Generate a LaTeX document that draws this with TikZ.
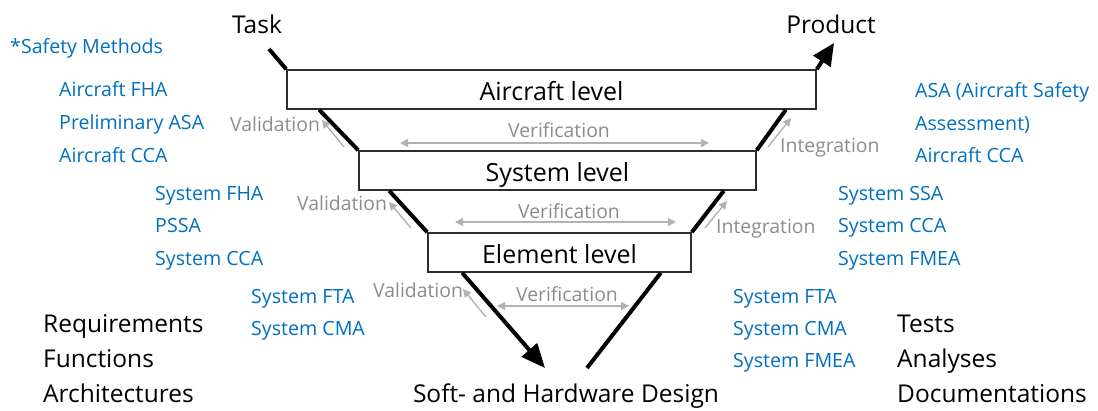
\documentclass[tikz,border=0pt]{standalone}
\usepackage{fontspec}
\setmainfont{Open Sans}
\usetikzlibrary{arrows.meta,calc}
\definecolor{methblue}{RGB}{0,112,192}
\definecolor{grytext}{RGB}{140,140,140}
\definecolor{gryline}{RGB}{178,178,178}
\definecolor{boxline}{RGB}{45,45,45}
\tikzset{
  lvl/.style={draw=boxline, line width=1.6pt, fill=white, inner sep=0pt,
    text height=21pt, text depth=0pt,
    font=\fontsize{25}{29}\selectfont},
  big/.style={inner sep=0pt, anchor=base west, font=\fontsize{24.5}{29}\selectfont},
  meth/.style={inner sep=0pt, anchor=base west, text=methblue,
    font=\fontsize{19.6}{23}\selectfont},
  glab/.style={inner sep=0pt, anchor=base west, text=grytext,
    font=\fontsize{19.4}{23}\selectfont},
  vline/.style={line width=4pt, black},
  garrow/.style={draw=gryline, line width=1.4pt,
    -{Triangle[length=8pt,width=8pt]}},
  gdouble/.style={draw=gryline, line width=1.4pt,
    {Triangle[length=8pt,width=8pt]}-{Triangle[length=8pt,width=8pt]}},
}
\begin{document}
\begin{tikzpicture}[x=1pt,y=-1pt]
\useasboundingbox (0,0) rectangle (1098,410);

% level boxes
\node[lvl, minimum width=529pt, minimum height=39pt] (air) at (551.5,89.5) {Aircraft level};
\node[lvl, minimum width=397pt, minimum height=39pt] (sys) at (557.5,170.5) {System level};
\node[lvl, minimum width=263pt, minimum height=39pt] (ele) at (559.5,252.5) {Element level};

% V-model path
\coordinate (taskstart) at (269,49);
\coordinate (prodtip) at (834,43);
\coordinate (a1) at ($(air.south west)+(33,0)$);
\coordinate (a2) at ($(air.south east)+(-31,0)$);
\coordinate (s1) at ($(sys.south west)+(31,0)$);
\coordinate (s2) at ($(sys.south east)+(-33,0)$);
\coordinate (e1) at ($(ele.south west)+(35,0)$);
\coordinate (e2) at ($(ele.south east)+(-31,0)$);
\coordinate (dtip) at (545,368);
\coordinate (dend) at (587,368);

\draw[vline] (taskstart) -- (air.north west);
\draw[vline, -{Triangle[length=22pt,width=20pt]}] (air.north east) -- (prodtip);
\draw[vline] (a1) -- (sys.north west);
\draw[vline] (a2) -- (sys.north east);
\draw[vline] (s1) -- (ele.north west);
\draw[vline] (s2) -- (ele.north east);
\draw[vline, -{Triangle[length=24pt,width=20pt]}] (e1) -- (dtip);
\draw[vline] (e2) -- (dend);

% start and end labels
\node[big, anchor=base] (task) at (257,33) {Task};
\node[big, anchor=base] (prod) at (831,33) {Product};
\node[big, anchor=base] (design) at (566,402) {Soft- and Hardware Design};

% verification
\coordinate (v1l) at (400,143); \coordinate (v1r) at (709,143);
\coordinate (v2l) at (455,222); \coordinate (v2r) at (676,222);
\coordinate (v3l) at (497,306); \coordinate (v3r) at (629,306);
\draw[gdouble] (v1l) -- (v1r);
\draw[gdouble] (v2l) -- (v2r);
\draw[gdouble] (v3l) -- (v3r);
\node[glab, anchor=base] (ver1) at (559,137) {Verification};
\node[glab, anchor=base] (ver2) at (569,218) {Verification};
\node[glab, anchor=base] (ver3) at (567,301) {Verification};

% validation
\coordinate (va1s) at (344,147); \coordinate (va1t) at (322,120);
\coordinate (va2s) at (411,228); \coordinate (va2t) at (389,202);
\coordinate (va3s) at (486,317); \coordinate (va3t) at (463,289);
\draw[garrow] (va1s) -- (va1t);
\draw[garrow] (va2s) -- (va2t);
\draw[garrow] (va3s) -- (va3t);
\node[glab] (val1) at (230,131) {Validation};
\node[glab] (val2) at (297,210) {Validation};
\node[glab] (val3) at (373,297) {Validation};

% integration
\coordinate (in1s) at (768,147); \coordinate (in1t) at (791,118);
\coordinate (in2s) at (705,228); \coordinate (in2t) at (727,201);
\draw[garrow] (in1s) -- (in1t);
\draw[garrow] (in2s) -- (in2t);
\node[glab] (int1) at (780,152) {Integration};
\node[glab] (int2) at (716,233) {Integration};

% safety methods, left side
\node[meth] (sm) at (10,53) {*Safety Methods};
\node[meth] (l1a) at (59,96) {Aircraft FHA};
\node[meth] (l1b) at (59,129) {Preliminary ASA};
\node[meth] (l1c) at (59,162) {Aircraft CCA};
\node[meth] (l2a) at (155,200) {System FHA};
\node[meth] (l2b) at (155,232) {PSSA};
\node[meth] (l2c) at (155,265) {System CCA};
\node[meth] (l3a) at (251,303) {System FTA};
\node[meth] (l3b) at (251,335) {System CMA};

% safety methods, right side
\node[meth] (r1a) at (915,97) {ASA (Aircraft Safety};
\node[meth] (r1b) at (915,130) {Assessment)};
\node[meth] (r1c) at (915,162) {Aircraft CCA};
\node[meth] (r2a) at (838,200) {System SSA};
\node[meth] (r2b) at (838,232) {System CCA};
\node[meth] (r2c) at (838,265) {System FMEA};
\node[meth] (r3a) at (733,303) {System FTA};
\node[meth] (r3b) at (733,335) {System CMA};
\node[meth] (r3c) at (733,367) {System FMEA};

% work products
\node[big] (req) at (43,332) {Requirements};
\node[big] (fun) at (43,367) {Functions};
\node[big] (arc) at (43,402) {Architectures};
\node[big] (tst) at (897,332) {Tests};
\node[big] (ana) at (897,367) {Analyses};
\node[big] (doc) at (897,402) {Documentations};
\end{tikzpicture}
\end{document}
